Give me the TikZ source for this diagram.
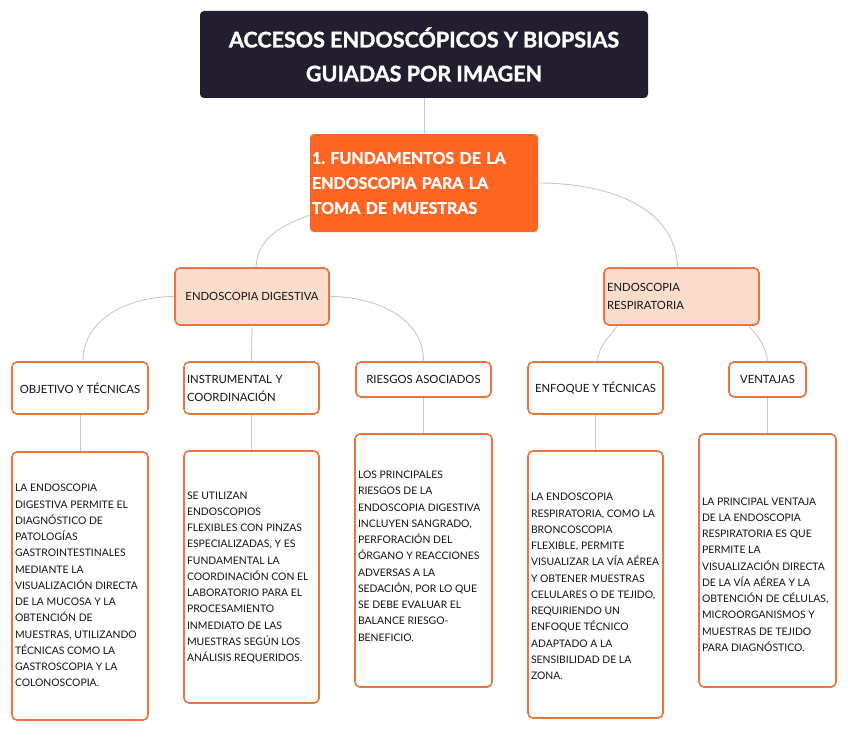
\documentclass[tikz,border=0pt]{standalone}
\usepackage{fontspec}
\setmainfont{Lato}[BoldFeatures={FakeBold=1.5}]
\frenchspacing
\definecolor{titlebg}{HTML}{221E2F}
\definecolor{orgfill}{HTML}{FF6523}
\definecolor{peach}{HTML}{FCDCCB}
\definecolor{orb}{HTML}{EB7440}
\definecolor{conn}{HTML}{C8C8C8}
\definecolor{txt}{HTML}{141414}
\newcommand{\txtlines}[3]{\raisebox{#2}[\height][\depth]{\makebox[#1][l]{\begin{tabular}{@{}l@{}}#3\end{tabular}}}}
\tikzset{
  titlebox/.style={fill=titlebg, rounded corners=4pt, text=white, align=center,
    font=\bfseries\fontsize{21.5}{34}\selectfont, minimum width=448pt, minimum height=87pt, inner sep=0pt},
  orgbox/.style={fill=orgfill, rounded corners=4pt, text=white, align=left, text width=224pt,
    font=\bfseries\fontsize{16}{25}\selectfont, minimum width=228pt, minimum height=98pt, inner xsep=2pt, inner ysep=0pt},
  subbox/.style={draw=orb, fill=peach, line width=1.6pt, rounded corners=5pt, text=txt,
    font=\fontsize{11.3}{17.5}\selectfont, minimum height=57pt, inner ysep=0pt},
  lblbox/.style={draw=orb, fill=white, line width=1.6pt, rounded corners=5pt, text=txt,
    font=\fontsize{11.3}{18}\selectfont, inner ysep=0pt},
  bodybox/.style={draw=orb, fill=white, line width=1.6pt, rounded corners=5pt, text=txt,
    font=\fontsize{10.4}{16.25}\selectfont, inner xsep=3pt, inner ysep=0pt},
  link/.style={draw=conn, line width=0.9pt}
}
\begin{document}
\begin{tikzpicture}[x=1pt,y=1pt]
\useasboundingbox (0,0) rectangle (848,-733);
% nodes
\node[titlebox] (title) at (424,-54.5) {ACCESOS ENDOSCÓPICOS Y BIOPSIAS\\GUIADAS POR IMAGEN};
\node[orgbox] (org) at (424,-183) {1. FUNDAMENTOS DE LA\\ENDOSCOPIA PARA LA\\TOMA DE MUESTRAS};
\node[subbox, minimum width=154pt, align=center] (dig) at (252,-296.5) {ENDOSCOPIA DIGESTIVA};
\node[subbox, minimum width=155pt, text width=149pt, inner xsep=3pt, align=left] (resp) at (681.5,-296.5) {ENDOSCOPIA\\RESPIRATORIA};
\node[lblbox, minimum width=136pt, minimum height=52pt, align=center] (obj) at (80,-388) {OBJETIVO Y TÉCNICAS};
\node[lblbox, minimum width=135pt, minimum height=52pt, text width=129pt, inner xsep=3pt, align=left] (inst) at (251.5,-388) {INSTRUMENTAL Y\\COORDINACIÓN};
\node[lblbox, minimum width=135pt, minimum height=35pt, align=center] (ries) at (423.5,-379.5) {RIESGOS ASOCIADOS};
\node[lblbox, minimum width=135pt, minimum height=52pt, align=center] (enf) at (595.5,-388) {ENFOQUE Y TÉCNICAS};
\node[lblbox, minimum width=77pt, minimum height=35pt, align=center] (ven) at (767.5,-379.5) {VENTAJAS};
\node[bodybox, minimum width=136pt, minimum height=268pt] (b1) at (80,-586) {\txtlines{130pt}{0pt}{LA ENDOSCOPIA\\DIGESTIVA PERMITE EL\\DIAGNÓSTICO DE\\PATOLOGÍAS\\GASTROINTESTINALES\\MEDIANTE LA\\VISUALIZACIÓN DIRECTA\\DE LA MUCOSA Y LA\\OBTENCIÓN DE\\MUESTRAS, UTILIZANDO\\TÉCNICAS COMO LA\\GASTROSCOPIA Y LA\\COLONOSCOPIA.}};
\node[bodybox, minimum width=135pt, minimum height=252pt] (b2) at (251.5,-577) {\txtlines{129pt}{0pt}{SE UTILIZAN\\ENDOSCOPIOS\\FLEXIBLES CON PINZAS\\ESPECIALIZADAS, Y ES\\FUNDAMENTAL LA\\COORDINACIÓN CON EL\\LABORATORIO PARA EL\\PROCESAMIENTO\\INMEDIATO DE LAS\\MUESTRAS SEGÚN LOS\\ANÁLISIS REQUERIDOS.}};
\node[bodybox, minimum width=137pt, minimum height=253pt] (b3) at (423.5,-560.5) {\txtlines{131pt}{4pt}{LOS PRINCIPALES\\RIESGOS DE LA\\ENDOSCOPIA DIGESTIVA\\INCLUYEN SANGRADO,\\PERFORACIÓN DEL\\ÓRGANO Y REACCIONES\\ADVERSAS A LA\\SEDACIÓN, POR LO QUE\\SE DEBE EVALUAR EL\\BALANCE RIESGO-\\BENEFICIO.}};
\node[bodybox, minimum width=135pt, minimum height=267pt] (b4) at (595.5,-584.5) {\txtlines{129pt}{-2.5pt}{LA ENDOSCOPIA\\RESPIRATORIA, COMO LA\\BRONCOSCOPIA\\FLEXIBLE, PERMITE\\VISUALIZAR LA VÍA AÉREA\\Y OBTENER MUESTRAS\\CELULARES O DE TEJIDO,\\REQUIRIENDO UN\\ENFOQUE TÉCNICO\\ADAPTADO A LA\\SENSIBILIDAD DE LA\\ZONA.}};
\node[bodybox, minimum width=137pt, minimum height=253pt] (b5) at (767.5,-560.5) {\txtlines{131pt}{-14.5pt}{LA PRINCIPAL VENTAJA\\DE LA ENDOSCOPIA\\RESPIRATORIA ES QUE\\PERMITE LA\\VISUALIZACIÓN DIRECTA\\DE LA VÍA AÉREA Y LA\\OBTENCIÓN DE CÉLULAS,\\MICROORGANISMOS Y\\MUESTRAS DE TEJIDO\\PARA DIAGNÓSTICO.}};
% connectors
\draw[link] (title.south) -- (org.north);
\draw[link] ([yshift=-32pt]org.west) to[out=200,in=88] ([xshift=4pt]dig.north);
\draw[link] (org.east) to[out=0,in=92] ([xshift=-4pt]resp.north);
\draw[link] (dig.west) to[out=180,in=90] ([xshift=3pt]obj.north);
\draw[link] (dig.south) -- (inst.north);
\draw[link] (dig.east) to[out=0,in=90] (ries.north);
\draw[link] ([xshift=14pt]resp.south west) to[out=235,in=85] ([xshift=2pt]enf.north);
\draw[link] ([xshift=-11pt]resp.south east) to[out=-50,in=95] (ven.north);
\draw[link] (obj.south) -- (b1.north);
\draw[link] (inst.south) -- (b2.north);
\draw[link] (ries.south) -- (b3.north);
\draw[link] (enf.south) -- (b4.north);
\draw[link] (ven.south) -- (b5.north);
\end{tikzpicture}
\end{document}
